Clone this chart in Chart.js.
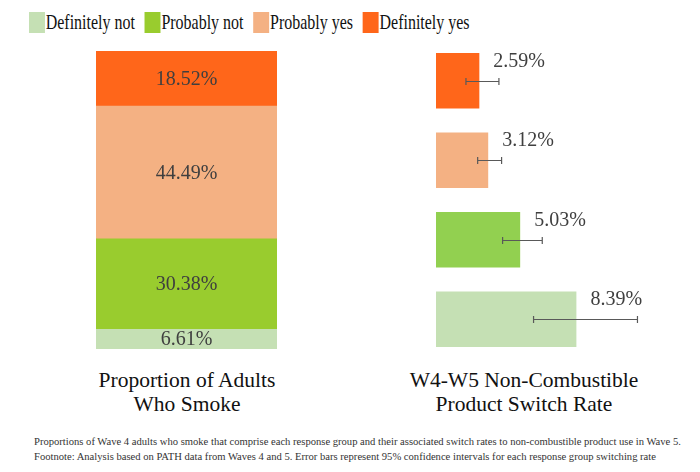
<!DOCTYPE html>
<html>
<head>
<meta charset="utf-8">
<script src="https://cdn.jsdelivr.net/npm/chart.js@4.4.1/dist/chart.umd.min.js"></script>
<style>
  html, body { margin: 0; padding: 0; background: #fff; }
  body { width: 700px; height: 472px; position: relative; overflow: hidden; font-family: 'Liberation Serif'; }
  canvas { position: absolute; }
  #legend { position: absolute; left: 29px; top: 12px; display: flex; white-space: nowrap; transform: scaleX(0.76); transform-origin: left top; }
  .item { display: flex; align-items: flex-start; margin-right: 13px; }
  .box { width: 21px; height: 21px; margin-right: 1px; }
  .lbl { font-family: 'Liberation Serif'; font-size: 21px; line-height: 21px; color: #111; }
  .title { position: absolute; top: 368px; width: 300px; text-align: center; font-family: 'Liberation Serif'; font-size: 21.5px; line-height: 24px; color: #111; }
  #note { position: absolute; left: 34px; top: 434px; font-family: 'Liberation Serif'; font-size: 10.6px; line-height: 15px; color: #333; white-space: nowrap; }
</style>
</head>
<body>
<div id="legend"></div>
<canvas id="share" width="181" height="298" style="left:96px;top:51px;width:181px;height:298px"></canvas>
<canvas id="rate" width="251" height="318" style="left:436px;top:41px;width:251px;height:318px"></canvas>
<div class="title" style="left:37px">Proportion of Adults<br>Who Smoke</div>
<div class="title" style="left:374px">W4-W5 Non-Combustible<br>Product Switch Rate</div>
<div id="note">Proportions of Wave 4 adults who smoke that comprise each response group and their associated switch rates to non-combustible product use in Wave 5.<br>Footnote: Analysis based on PATH data from Waves 4 and 5. Error bars represent 95% confidence intervals for each response group switching rate</div>

<script>
/* ===== DATA ===== */
const groups = ["Definitely not", "Probably not", "Probably yes", "Definitely yes"];
const shareOfAdults = [6.61, 30.38, 44.49, 18.52];   // % of Wave 4 adults who smoke
const switchRate = [8.39, 5.03, 3.12, 2.59];         // % switching W4 -> W5
const ciLow = [5.83, 3.98, 2.49, 1.79];
const ciHigh = [12.04, 6.35, 3.92, 3.76];

const shareColors = ["#c5e0b4", "#99cc2e", "#f4b183", "#ff661a"];
const rateColors = ["#c5e0b4", "#92d050", "#f4b183", "#ff661a"];

const LABEL_FONT = "20px 'Liberation Serif'";
const LABEL_COLOR = "#3f3f3f";

/* ===== LEGEND ===== */
const legend = document.getElementById("legend");
groups.forEach((g, i) => {
  const item = document.createElement("div");
  item.className = "item";
  item.innerHTML = `<span class="box" style="background:${shareColors[i]}"></span><span class="lbl">${g}</span>`;
  legend.appendChild(item);
});

/* ===== LEFT: stacked proportion bar ===== */
const shareLabels = {
  id: "shareLabels",
  afterDatasetsDraw(chart) {
    const ctx = chart.ctx;
    ctx.save();
    ctx.font = LABEL_FONT;
    ctx.fillStyle = LABEL_COLOR;
    ctx.textAlign = "center";
    ctx.textBaseline = "middle";
    chart.data.datasets.forEach((ds, i) => {
      const el = chart.getDatasetMeta(i).data[0];
      ctx.fillText(ds.data[0].toFixed(2) + "%", el.x, (el.y + el.base) / 2 + 1);
    });
    ctx.restore();
  },
};

new Chart(document.getElementById("share"), {
  type: "bar",
  data: {
    labels: [""],
    datasets: groups.map((g, i) => ({
      label: g,
      data: [shareOfAdults[i]],
      backgroundColor: shareColors[i],
      borderWidth: 0,
      barPercentage: 1,
      categoryPercentage: 1,
    })),
  },
  options: {
    responsive: false,
    animation: false,
    layout: { padding: 0 },
    plugins: { legend: { display: false }, tooltip: { enabled: false } },
    scales: {
      x: { stacked: true, display: false },
      y: { stacked: true, display: false, min: 0, max: 100 },
    },
  },
  plugins: [shareLabels],
});

/* ===== RIGHT: switch rate bars with error bars ===== */
// top-to-bottom order is the reverse of the groups list
const order = [3, 2, 1, 0];

const errorBars = {
  id: "errorBars",
  afterDatasetsDraw(chart) {
    const ctx = chart.ctx;
    const xs = chart.scales.x;
    const meta = chart.getDatasetMeta(0);
    ctx.save();
    ctx.strokeStyle = "#595959";
    ctx.lineWidth = 1.2;
    order.forEach((g, i) => {
      const el = meta.data[i];
      const y = Math.round(el.y) + 0.5;
      const x1 = xs.getPixelForValue(ciLow[g]);
      const x2 = xs.getPixelForValue(ciHigh[g]);
      ctx.beginPath();
      ctx.moveTo(x1, y); ctx.lineTo(x2, y);
      ctx.moveTo(x1, y - 3.5); ctx.lineTo(x1, y + 3.5);
      ctx.moveTo(x2, y - 3.5); ctx.lineTo(x2, y + 3.5);
      ctx.stroke();
    });
    // value labels, just past the bar end near its top
    ctx.font = LABEL_FONT;
    ctx.fillStyle = LABEL_COLOR;
    ctx.textAlign = "left";
    ctx.textBaseline = "alphabetic";
    order.forEach((g, i) => {
      const el = meta.data[i];
      ctx.fillText(switchRate[g].toFixed(2) + "%", el.x + 14, el.y - el.height / 2 + 14);
    });
    ctx.restore();
  },
};

new Chart(document.getElementById("rate"), {
  type: "bar",
  data: {
    labels: order.map((g) => groups[g]),
    datasets: [
      {
        data: order.map((g) => switchRate[g]),
        backgroundColor: order.map((g) => rateColors[g]),
        borderWidth: 0,
        barPercentage: 0.7,
        categoryPercentage: 1,
      },
    ],
  },
  options: {
    indexAxis: "y",
    responsive: false,
    animation: false,
    layout: { padding: 0 },
    plugins: { legend: { display: false }, tooltip: { enabled: false } },
    scales: {
      x: { display: false, min: 0, max: 15 },
      y: { display: false },
    },
  },
  plugins: [errorBars],
});
</script>
</body>
</html>
